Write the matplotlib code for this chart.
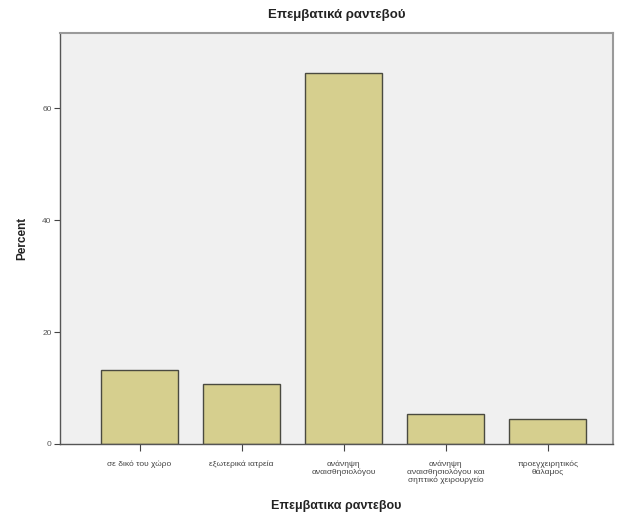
import numpy as np
import matplotlib.pyplot as plt

plt.rcParams['font.family'] = ['Liberation Sans', 'DejaVu Sans']

categories = ["σε δικό του χώρο", "εξωτερικά ιατρεία", "ανάνηψη\nαναισθησιολόγου",
              "ανάνηψη\nαναισθησιολόγου και\nσηπτικό χειρουργείο", "προεγχειρητικός\nθάλαμος"]
percent = [13.2, 10.7, 66.3, 5.4, 4.4]
yticks = [0, 20, 40, 60]

fig = plt.figure(figsize=(6.2, 5.25), dpi=100)
ax = fig.add_axes([0.0968, 0.1543, 0.892, 0.783])
ax.set_facecolor("#f0f0f0")

x = np.arange(len(categories))
ax.bar(x, percent, 0.75, color="#d6cf8e", edgecolor="#4a4a40", linewidth=1.0, zorder=2)

ax.set_xlim(-0.78, 4.64)
ax.set_ylim(0, 73.5)
ax.set_yticks(yticks)
ax.set_yticklabels([str(v) for v in yticks], fontsize=6, color="#555555")
ax.set_xticks(x)
ax.set_xticklabels(categories, fontsize=6, color="#444444", linespacing=1.1)
ax.tick_params(axis="y", direction="out", length=4, width=0.8, color="#444444", pad=2)
ax.tick_params(axis="x", direction="out", length=5, width=0.8, color="#444444", pad=7)

for side in ["left", "bottom"]:
    ax.spines[side].set_color("#555555")
    ax.spines[side].set_linewidth(1.0)
for side in ["top", "right"]:
    ax.spines[side].set_color("#9a9a9a")
    ax.spines[side].set_linewidth(1.5)

ax.set_title("Επεμβατικά ραντεβού", fontsize=9.5, fontweight="bold", color="#222222", pad=11)
ax.set_ylabel("Percent", fontsize=8.5, fontweight="bold", color="#222222", labelpad=10)
ax.set_xlabel("Επεμβατικα ραντεβου", fontsize=9, fontweight="bold", color="#222222", labelpad=11)

fig.savefig("out.png", dpi=100)
